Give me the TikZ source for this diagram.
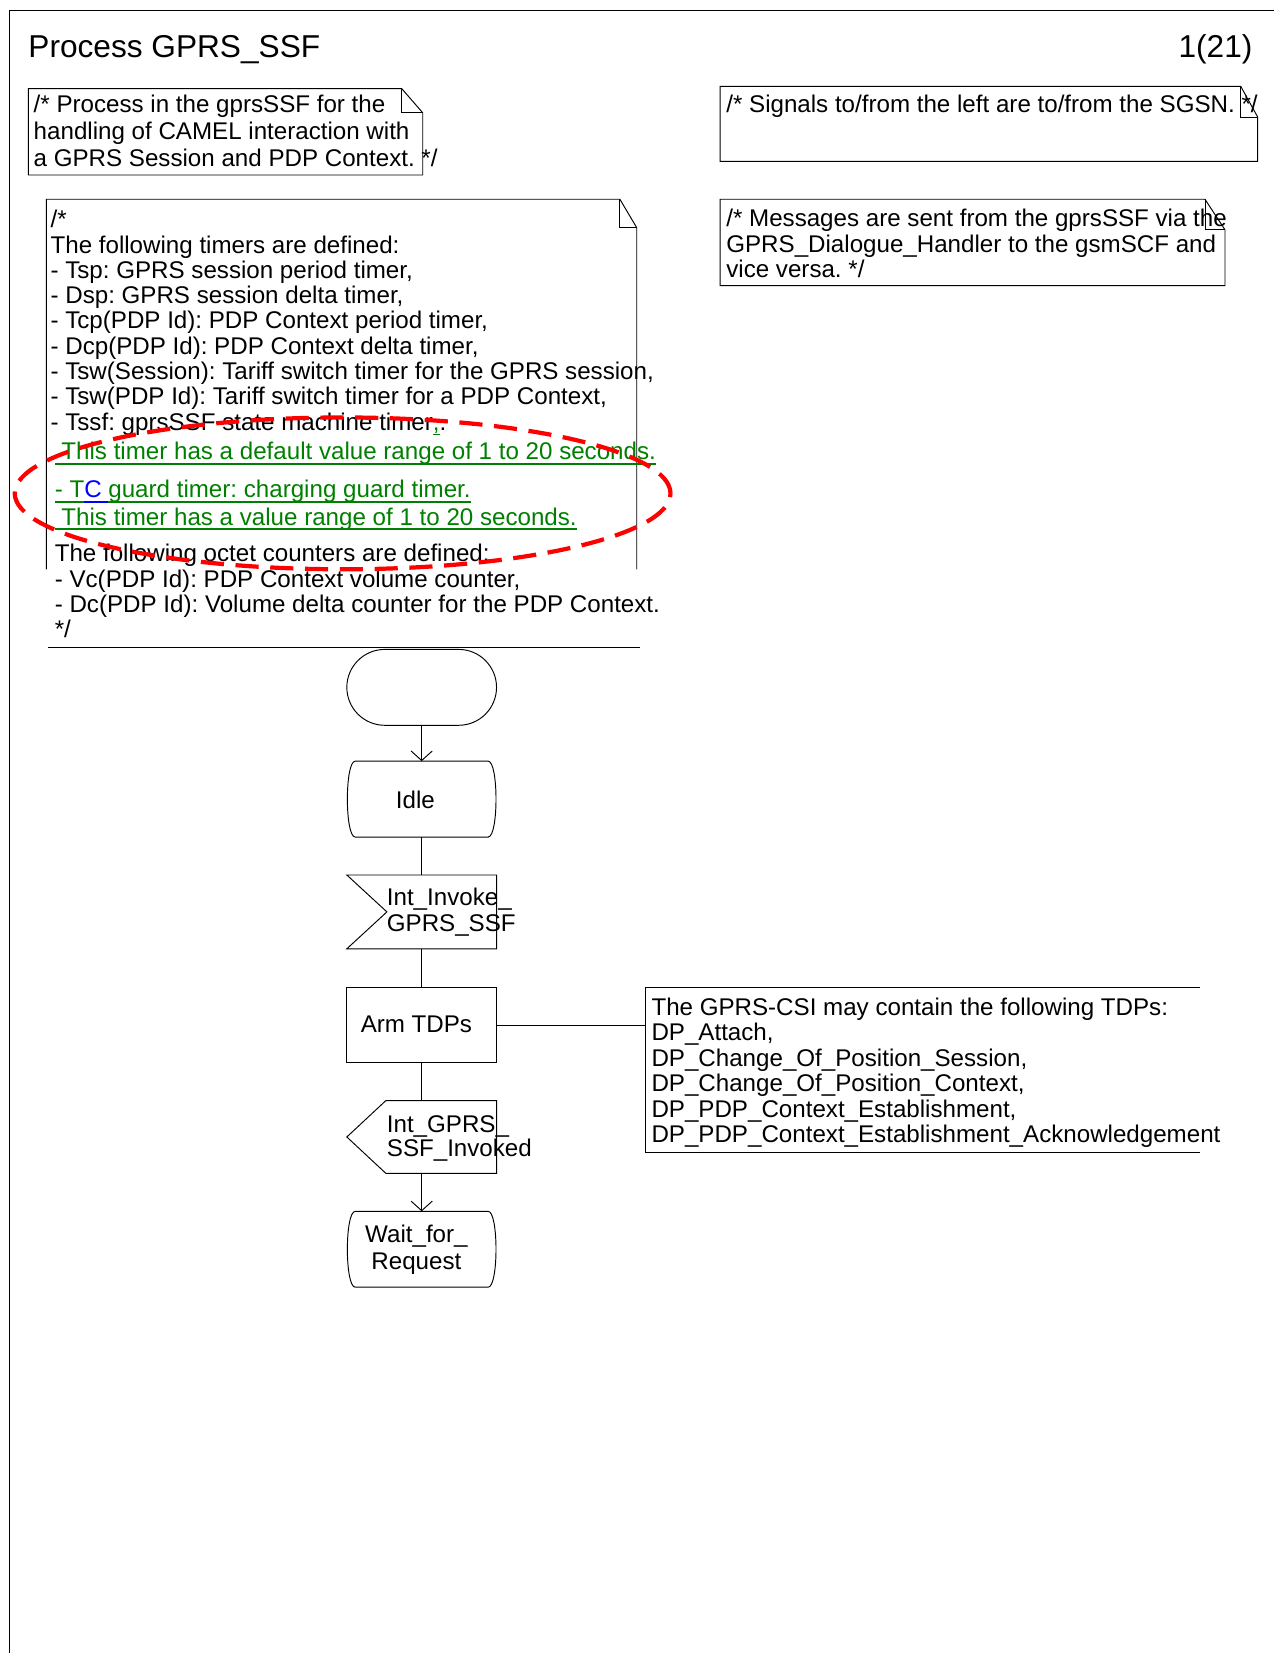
\documentclass[tikz,border=0pt]{standalone}
\usepackage{fontspec}
\setmainfont{Liberation Sans}
\usetikzlibrary{arrows.meta}
\definecolor{insgreen}{RGB}{0,128,0}
\definecolor{insblue}{RGB}{0,0,255}
\definecolor{markred}{RGB}{255,0,0}
\frenchspacing
% state symbol: flat top and bottom, sides bulging outwards
\newcommand\sdlstate[1]{%
  \draw[flow] ([xshift=8pt]#1.north west) -- ([xshift=-8pt]#1.north east)
    .. controls ([xshift=2pt]#1.north east) and ([xshift=2pt]#1.south east) .. ([xshift=-8pt]#1.south east)
    -- ([xshift=8pt]#1.south west)
    .. controls ([xshift=-2pt]#1.south west) and ([xshift=-2pt]#1.north west) .. ([xshift=8pt]#1.north west) -- cycle;}
\begin{document}
\begin{tikzpicture}[x=1pt,y=-1pt,
  txt/.style={font=\fontsize{22.9}{24.5}\selectfont, inner sep=0pt, outer sep=0pt, anchor=base west},
  ttl/.style={font=\fontsize{30}{32}\selectfont, inner sep=0pt, outer sep=0pt},
  ins/.style={txt, text=insgreen},
  uline/.style={draw=insgreen, line width=1.8pt},
  bline/.style={draw=insblue, line width=1.8pt},
  outline/.style={draw=black, line width=0.9pt},
  shapebox/.style={inner sep=0pt, outer sep=0pt, minimum width=142pt},
  flow/.style={draw=black, line width=0.9pt},
  flowarrow/.style={flow, -{Straight Barb[length=9pt,width=20pt]}},
  ring/.style={draw=markred, line width=4pt, dash pattern=on 22pt off 11pt}
]
\useasboundingbox (0,0) rectangle (1208,1568);

% page frame
\draw[line width=1.6pt] (9,1568) -- (9,10) -- (1208,10);

% heading
\node[ttl, anchor=base west] (title) at (27,55) {Process GPRS\_SSF};
\node[ttl, anchor=base east] (page) at (1188,55) {1(21)};

% comment: process description
\draw[outline] (27,84) -- (381,84) -- (401,107) -- (401,166) -- (27,166) -- cycle;
\draw[outline] (381,84) -- (381,107) -- (401,107);
\node[txt] (n1a) at (32,107) {/* Process in the gprsSSF for the};
\node[txt] (n1b) at (32,132.5) {handling of CAMEL interaction with};
\node[txt] (n1c) at (32,158) {a GPRS Session and PDP Context. */};

% comment: signal directions
\draw[outline] (683,82) -- (1177,82) -- (1193,111) -- (1193,153) -- (683,153) -- cycle;
\draw[outline] (1177,82) -- (1177,111) -- (1193,111);
\node[txt] (n2a) at (689,107) {/* Signals to/from the left are to/from the SGSN. */};

% comment: message routing
\draw[outline] (683,189) -- (1143,189) -- (1162,218) -- (1162,271) -- (683,271) -- cycle;
\draw[outline] (1143,189) -- (1143,218) -- (1162,218);
\node[txt] (n3a) at (689,215) {/* Messages are sent from the gprsSSF via the};
\node[txt] (n3b) at (689,239.5) {GPRS\_Dialogue\_Handler to the gsmSCF and};
\node[txt] (n3c) at (689,263) {vice versa. */};

% comment: timers and counters
\draw[outline] (44,540) -- (44,189) -- (588,189) -- (604,216) -- (604,540);
\draw[outline] (588,189) -- (588,216) -- (604,216);
\draw[outline] (46,614) -- (607,614);
\node[txt] (t0) at (48,216) {/*};
\node[txt] (t1) at (48,240) {The following timers are defined:};
\node[txt] (t2) at (48,264) {- Tsp: GPRS session period timer,};
\node[txt] (t3) at (48,288) {- Dsp: GPRS session delta timer,};
\node[txt] (t4) at (48,312) {- Tcp(PDP Id): PDP Context period timer,};
\node[txt] (t5) at (48,336) {- Dcp(PDP Id): PDP Context delta timer,};
\node[txt] (t6) at (48,360) {- Tsw(Session): Tariff switch timer for the GPRS session,};
\node[txt] (t7) at (48,384) {- Tsw(PDP Id): Tariff switch timer for a PDP Context,};
\node[txt] (t8) at (48,408) {- Tssf: gprsSSF state machine timer};
\node[ins] (t8b) at (t8.base east) {,};
\draw[uline, line width=1.2pt] ([yshift=-4pt]t8b.base west) -- ([yshift=-4pt]t8b.base east);
\node[txt] (t8c) at (t8b.base east) {.};

\node[ins] (g1) at (52,436) {\kern6.3pt This timer has a default value range of 1 to 20 seconds.};
\draw[uline] ([yshift=-4pt]g1.base west) -- ([yshift=-4pt]g1.base east);
\node[ins] (g2a) at (52,472) {- T};
\node[txt, text=insblue] (g2b) at (g2a.base east) {C\kern6.3pt};
\node[ins] (g2c) at (g2b.base east) {guard timer: charging guard timer.};
\draw[uline] ([yshift=-4pt]g2a.base west) -- ([yshift=-4pt]g2a.base east);
\draw[bline] ([yshift=-4pt]g2b.base west) -- ([yshift=-4pt]g2b.base east);
\draw[uline] ([yshift=-4pt]g2c.base west) -- ([yshift=-4pt]g2c.base east);
\node[ins] (g3) at (52,498) {\kern6.3pt This timer has a value range of 1 to 20 seconds.};
\draw[uline] ([yshift=-4pt]g3.base west) -- ([yshift=-4pt]g3.base east);

\node[txt] (c1) at (52,533) {The following octet counters are defined:};
\node[txt] (c2) at (52,557) {- Vc(PDP Id): PDP Context volume counter,};
\node[txt] (c3) at (52,581) {- Dc(PDP Id): Volume delta counter for the PDP Context.};
\node[txt] (c4) at (52,605) {*/};

% process flow
\node[shapebox, minimum height=72pt, flow, rounded corners=36pt] (start) at (400,652) {};

\node[shapebox, minimum height=72pt] (idle) at (400,758) {};
\sdlstate{idle}
\node[txt, anchor=center] (idleT) at (394,759) {Idle};

\node[shapebox, minimum height=70pt] (inv) at (400,865) {};
\draw[flow] (inv.north west) -- (inv.north east) -- (inv.south east) -- (inv.south west) -- ([xshift=38pt]inv.west) -- cycle;
\node[txt] (invA) at (367,859) {Int\_Invoke\_};
\node[txt] (invB) at (367,884) {GPRS\_SSF};

\node[shapebox, minimum height=71pt, flow] (arm) at (400,972.5) {};
\node[txt, anchor=center] (armT) at (395,972) {Arm TDPs};

\node[inner sep=0pt, outer sep=0pt, minimum width=526pt, minimum height=156pt] (csi) at (875,1015) {};
\draw[flow] (csi.north east) -- (csi.north west) -- (csi.south west) -- (csi.south east);
\node[txt] (k1) at (618,963) {The GPRS-CSI may contain the following TDPs:};
\node[txt] (k2) at (618,987.2) {DP\_Attach,};
\node[txt] (k3) at (618,1011.4) {DP\_Change\_Of\_Position\_Session,};
\node[txt] (k4) at (618,1035.6) {DP\_Change\_Of\_Position\_Context,};
\node[txt] (k5) at (618,1059.8) {DP\_PDP\_Context\_Establishment,};
\node[txt] (k6) at (618,1084) {DP\_PDP\_Context\_Establishment\_Acknowledgement};

\node[shapebox, minimum height=69pt] (inv2) at (400,1078.5) {};
\draw[flow] ([xshift=37pt]inv2.north west) -- (inv2.north east) -- (inv2.south east) -- ([xshift=37pt]inv2.south west) -- (inv2.west) -- cycle;
\node[txt] (inv2A) at (367,1074) {Int\_GPRS\_};
\node[txt] (inv2B) at (367,1097) {SSF\_Invoked};

\node[shapebox, minimum height=72pt] (wait) at (400,1185) {};
\sdlstate{wait}
\node[txt, anchor=base] (waitA) at (395,1179) {Wait\_for\_};
\node[txt, anchor=base] (waitB) at (395,1204) {Request};

% connectors
\draw[flowarrow] (start) -- (idle);
\draw[flow] (idle) -- (inv);
\draw[flow] (inv) -- (arm);
\draw[flow] (arm) -- (inv2);
\draw[flowarrow] (inv2) -- (wait);
\draw[flow] (arm.east) -- (arm.east -| csi.west);

% highlight ring over the timer text
\draw[ring] (325,468) ellipse [x radius=311pt, y radius=72pt];
\end{tikzpicture}
\end{document}
